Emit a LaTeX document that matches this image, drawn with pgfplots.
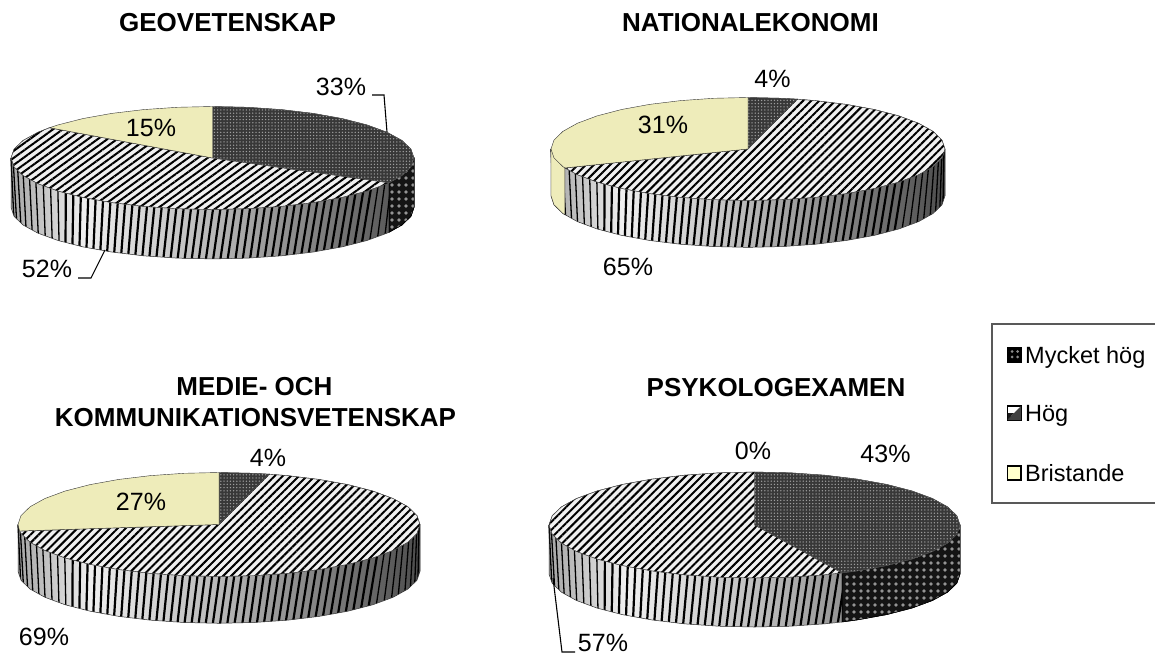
\documentclass[border=0pt]{standalone}
\usepackage{fontspec}
\setmainfont{Liberation Sans}
\usepackage{pgfplots}
\usepackage{pgfplotstable}
\pgfplotsset{compat=1.18}
\usetikzlibrary{patterns.meta}
\definecolor{ybar}{RGB}{238,236,186}
\pgfdeclarehorizontalshading{wallA}{100bp}{color(0bp)=(black!35);color(25bp)=(black!35);color(34bp)=(black!6);color(50bp)=(black!28);color(75bp)=(black!70);color(100bp)=(black!70)}
\pgfdeclarehorizontalshading{wallB}{100bp}{color(0bp)=(black!35);color(25bp)=(black!35);color(38bp)=(black!6);color(60bp)=(black!25);color(75bp)=(black!42);color(100bp)=(black!42)}
\pgfplotstableread[row sep=\\]{x y\\
-.727 0\\-.730 -2.05\\nan nan\\-.6875 0\\-.6965 -2.05\\nan nan\\-.6485 0\\-.6625 -2.05\\nan nan\\-.610 0\\-.628 -2.05\\nan nan\\
-.571 0\\-.594 -2.05\\nan nan\\-.532 0\\-.560 -2.05\\nan nan\\-.4925 0\\-.5265 -2.05\\nan nan\\-.4545 0\\-.4915 -2.05\\nan nan\\
-.4165 0\\-.4565 -2.05\\nan nan\\-.3785 0\\-.4215 -2.05\\nan nan\\-.3405 0\\-.3865 -2.05\\nan nan\\-.3025 0\\-.3515 -2.05\\nan nan\\
-.2645 0\\-.3165 -2.05\\nan nan\\-.2265 0\\-.2815 -2.05\\nan nan\\-.1885 0\\-.2465 -2.05\\nan nan\\-.151 0\\-.211 -2.05\\nan nan\\
-.113 0\\-.176 -2.05\\nan nan\\-.075 0\\-.141 -2.05\\nan nan\\-.037 0\\-.106 -2.05\\nan nan\\.001 0\\-.071 -2.05\\nan nan\\
.039 0\\-.036 -2.05\\nan nan\\.076 0\\0 -2.05\\nan nan\\.113 0\\.036 -2.05\\nan nan\\.150 0\\.072 -2.05\\nan nan\\
.184 0\\.111 -2.05\\nan nan\\.222 0\\.147 -2.05\\nan nan\\.259 0\\.183 -2.05\\nan nan\\.296 0\\.218 -2.05\\nan nan\\
.333 0\\.254 -2.05\\nan nan\\.371 0\\.290 -2.05\\nan nan\\.408 0\\.325 -2.05\\nan nan\\.445 0\\.361 -2.05\\nan nan\\
.482 0\\.397 -2.05\\nan nan\\.520 0\\.433 -2.05\\nan nan\\.557 0\\.469 -2.05\\nan nan\\.593 0\\.505 -2.05\\nan nan\\
.630 0\\.542 -2.05\\nan nan\\.666 0\\.578 -2.05\\nan nan\\.703 0\\.615 -2.05\\nan nan\\.739 0\\.651 -2.05\\nan nan\\
.776 0\\.688 -2.05\\nan nan\\.812 0\\.724 -2.05\\nan nan\\
}\stripes
\pgfplotstableread[row sep=\\]{x y\\
-1 0\\-.975 -2.05\\nan nan\\-.99 0\\-.96 -2.05\\nan nan\\-.97 0\\-.94 -2.05\\nan nan\\-.944 0\\-.916 -2.05\\nan nan\\
-.913 0\\-.887 -2.05\\nan nan\\-.882 0\\-.858 -2.05\\nan nan\\-.845 0\\-.825 -2.05\\nan nan\\-.808 0\\-.792 -2.05\\nan nan\\
-.771 0\\-.759 -2.05\\nan nan\\
.843 0\\.763 -2.05\\nan nan\\.872 0\\.802 -2.05\\nan nan\\.90 0\\.84 -2.05\\nan nan\\.925 0\\.875 -2.05\\nan nan\\
.95 0\\.91 -2.05\\nan nan\\.97 0\\.94 -2.05\\nan nan\\.985 0\\.965 -2.05\\nan nan\\.995 0\\.985 -2.05\\
}\edgestripes
\tikzset{
  dark top/.style={preaction={fill=black!78},pattern={Dots[distance=3.2bp,radius=.75bp]},pattern color=black!38,draw=black!70,line width=.4bp},
  high top/.style={preaction={fill=black!6},pattern={Lines[angle=#1,distance=5.7bp,line width=2bp]},pattern color=black,draw=black!70,line width=.4bp},
  yellow top/.style={fill=ybar,draw=black!80,line width=.4bp},
  dark wall/.style={preaction={fill=black!92},pattern={Dots[distance=7bp,radius=1.9bp]},pattern color=black!42,draw=black,line width=.5bp},
  wall base/.style={shade,shading=#1,draw=none},
  stripe/.style={draw=black,line width=2.2bp},
  edge stripe/.style={draw=black,line width=1.3bp},
  mask/.style={fill=white,draw=none},
  rim/.style={draw=black!85,line width=.5bp},
  yellow wall/.style={fill=ybar,draw=black!80,line width=.4bp},
}
\pgfplotsset{pie/.style={hide axis,scale only axis,clip=false,xmin=-1,xmax=1,ymin=-1,ymax=1,anchor=south west,unbounded coords=jump}}
\begin{document}
\begin{tikzpicture}
\path[use as bounding box] (0,0) rectangle (1155bp,654bp);
% GEOVETENSKAP
\begin{axis}[pie,at={(11bp,444.5bp)},width=403bp,height=103bp]
\addplot[wall base=wallA] coordinates {(1,0)(1,-.96)(.9848,-1.1336)(.9397,-1.302)(.8660,-1.46)(.7660,-1.6028)(.6428,-1.726)(.5,-1.826)(.3420,-1.8997)(.1736,-1.9448)(0,-1.96)(-.1736,-1.9448)(-.3420,-1.8997)(-.5,-1.826)(-.6428,-1.726)(-.7660,-1.6028)(-.8660,-1.46)(-.9397,-1.302)(-.9848,-1.1336)(-1,-.96)(-1,0)} --cycle;
\addplot[stripe] table {\stripes};
\addplot[edge stripe] table {\edgestripes};
\addplot[mask] coordinates {(1,-.96)(.9848,-1.1336)(.9397,-1.302)(.8660,-1.46)(.7660,-1.6028)(.6428,-1.726)(.5,-1.826)(.3420,-1.8997)(.1736,-1.9448)(0,-1.96)(-.1736,-1.9448)(-.3420,-1.8997)(-.5,-1.826)(-.6428,-1.726)(-.7660,-1.6028)(-.8660,-1.46)(-.9397,-1.302)(-.9848,-1.1336)(-1,-.96)(-1.02,-.96)(-1.02,-2.2)(1.02,-2.2)(1.02,-.96)} --cycle;
\addplot[rim] coordinates {(1,0)(1,-.96)(.9848,-1.1336)(.9397,-1.302)(.8660,-1.46)(.7660,-1.6028)(.6428,-1.726)(.5,-1.826)(.3420,-1.8997)(.1736,-1.9448)(0,-1.96)(-.1736,-1.9448)(-.3420,-1.8997)(-.5,-1.826)(-.6428,-1.726)(-.7660,-1.6028)(-.8660,-1.46)(-.9397,-1.302)(-.9848,-1.1336)(-1,-.96)(-1,0)};
\addplot[dark wall] coordinates {(1,0)(1,-.96)(.9848,-1.1336)(.9397,-1.302)(.8763,-1.4418)(.8763,-.4818)} --cycle;
\addplot[dark top] coordinates {(0,0)(0,1)(.1736,.9848)(.3420,.9397)(.5,.8660)(.6428,.7660)(.7660,.6428)(.8660,.5)(.9397,.3420)(.9848,.1736)(1,0)(.9848,-.1736)(.9397,-.3420)(.8763,-.4818)} --cycle;
\addplot[high top=36] coordinates {(0,0)(.8763,-.4818)(.8660,-.5)(.7660,-.6428)(.6428,-.7660)(.5,-.8660)(.3420,-.9397)(.1736,-.9848)(0,-1)(-.1736,-.9848)(-.3420,-.9397)(-.5,-.8660)(-.6428,-.7660)(-.7660,-.6428)(-.8660,-.5)(-.9397,-.3420)(-.9848,-.1736)(-1,0)(-.9848,.1736)(-.9397,.3420)(-.8660,.5)(-.8090,.5878)} --cycle;
\addplot[yellow top] coordinates {(0,0)(-.8090,.5878)(-.7660,.6428)(-.6428,.7660)(-.5,.8660)(-.3420,.9397)(-.1736,.9848)(0,1)} --cycle;
\end{axis}
% NATIONALEKONOMI
\begin{axis}[pie,at={(551bp,453.5bp)},width=394bp,height=103bp]
\addplot[wall base=wallA] coordinates {(1,0)(1,-.91)(.9848,-1.0836)(.9397,-1.252)(.8660,-1.41)(.7660,-1.5528)(.6428,-1.676)(.5,-1.776)(.3420,-1.8497)(.1736,-1.8948)(0,-1.91)(-.1736,-1.8948)(-.3420,-1.8497)(-.5,-1.776)(-.6428,-1.676)(-.7660,-1.5528)(-.8660,-1.41)(-.9397,-1.252)(-.9848,-1.0836)(-1,-.91)(-1,0)} --cycle;
\addplot[stripe] table {\stripes};
\addplot[edge stripe] table {\edgestripes};
\addplot[mask] coordinates {(1,-.91)(.9848,-1.0836)(.9397,-1.252)(.8660,-1.41)(.7660,-1.5528)(.6428,-1.676)(.5,-1.776)(.3420,-1.8497)(.1736,-1.8948)(0,-1.91)(-.1736,-1.8948)(-.3420,-1.8497)(-.5,-1.776)(-.6428,-1.676)(-.7660,-1.5528)(-.8660,-1.41)(-.9397,-1.252)(-.9848,-1.0836)(-1,-.91)(-1.02,-.91)(-1.02,-2.2)(1.02,-2.2)(1.02,-.91)} --cycle;
\addplot[rim] coordinates {(1,0)(1,-.91)(.9848,-1.0836)(.9397,-1.252)(.8660,-1.41)(.7660,-1.5528)(.6428,-1.676)(.5,-1.776)(.3420,-1.8497)(.1736,-1.8948)(0,-1.91)(-.1736,-1.8948)(-.3420,-1.8497)(-.5,-1.776)(-.6428,-1.676)(-.7660,-1.5528)(-.8660,-1.41)(-.9397,-1.252)(-.9848,-1.0836)(-1,-.91)(-1,0)};
\addplot[yellow wall] coordinates {(-.9298,-.3681)(-.9298,-1.2781)(-.9397,-1.252)(-.9848,-1.0836)(-1,-.91)(-1,0)} --cycle;
\addplot[dark top] coordinates {(0,0)(0,1)(.1736,.9848)(.2487,.9686)} --cycle;
\addplot[high top=45] coordinates {(0,0)(.2487,.9686)(.3420,.9397)(.5,.8660)(.6428,.7660)(.7660,.6428)(.8660,.5)(.9397,.3420)(.9848,.1736)(1,0)(.9848,-.1736)(.9397,-.3420)(.8660,-.5)(.7660,-.6428)(.6428,-.7660)(.5,-.8660)(.3420,-.9397)(.1736,-.9848)(0,-1)(-.1736,-.9848)(-.3420,-.9397)(-.5,-.8660)(-.6428,-.7660)(-.7660,-.6428)(-.8660,-.5)(-.9298,-.3681)} --cycle;
\addplot[yellow top] coordinates {(0,0)(-.9298,-.3681)(-.9397,-.3420)(-.9848,-.1736)(-1,0)(-.9848,.1736)(-.9397,.3420)(-.8660,.5)(-.7660,.6428)(-.6428,.7660)(-.5,.8660)(-.3420,.9397)(-.1736,.9848)(0,1)} --cycle;
\end{axis}
% MEDIE
\begin{axis}[pie,at={(18bp,77.5bp)},width=402bp,height=104bp]
\addplot[wall base=wallA] coordinates {(1,0)(1,-.9)(.9848,-1.0736)(.9397,-1.242)(.8660,-1.4)(.7660,-1.5428)(.6428,-1.666)(.5,-1.766)(.3420,-1.8397)(.1736,-1.8848)(0,-1.9)(-.1736,-1.8848)(-.3420,-1.8397)(-.5,-1.766)(-.6428,-1.666)(-.7660,-1.5428)(-.8660,-1.4)(-.9397,-1.242)(-.9848,-1.0736)(-1,-.9)(-1,0)} --cycle;
\addplot[stripe] table {\stripes};
\addplot[edge stripe] table {\edgestripes};
\addplot[mask] coordinates {(1,-.9)(.9848,-1.0736)(.9397,-1.242)(.8660,-1.4)(.7660,-1.5428)(.6428,-1.666)(.5,-1.766)(.3420,-1.8397)(.1736,-1.8848)(0,-1.9)(-.1736,-1.8848)(-.3420,-1.8397)(-.5,-1.766)(-.6428,-1.666)(-.7660,-1.5428)(-.8660,-1.4)(-.9397,-1.242)(-.9848,-1.0736)(-1,-.9)(-1.02,-.9)(-1.02,-2.2)(1.02,-2.2)(1.02,-.9)} --cycle;
\addplot[rim] coordinates {(1,0)(1,-.9)(.9848,-1.0736)(.9397,-1.242)(.8660,-1.4)(.7660,-1.5428)(.6428,-1.666)(.5,-1.766)(.3420,-1.8397)(.1736,-1.8848)(0,-1.9)(-.1736,-1.8848)(-.3420,-1.8397)(-.5,-1.766)(-.6428,-1.666)(-.7660,-1.5428)(-.8660,-1.4)(-.9397,-1.242)(-.9848,-1.0736)(-1,-.9)(-1,0)};
\addplot[dark top] coordinates {(0,0)(0,1)(.1736,.9848)(.2487,.9686)} --cycle;
\addplot[high top=45] coordinates {(0,0)(.2487,.9686)(.3420,.9397)(.5,.8660)(.6428,.7660)(.7660,.6428)(.8660,.5)(.9397,.3420)(.9848,.1736)(1,0)(.9848,-.1736)(.9397,-.3420)(.8660,-.5)(.7660,-.6428)(.6428,-.7660)(.5,-.8660)(.3420,-.9397)(.1736,-.9848)(0,-1)(-.1736,-.9848)(-.3420,-.9397)(-.5,-.8660)(-.6428,-.7660)(-.7660,-.6428)(-.8660,-.5)(-.9397,-.3420)(-.9848,-.1736)(-.9921,-.1253)} --cycle;
\addplot[yellow top] coordinates {(0,0)(-.9921,-.1253)(-1,0)(-.9848,.1736)(-.9397,.3420)(-.8660,.5)(-.7660,.6428)(-.6428,.7660)(-.5,.8660)(-.3420,.9397)(-.1736,.9848)(0,1)} --cycle;
\end{axis}
% PSYKOLOGEXAMEN
\begin{axis}[pie,at={(549bp,76bp)},width=411bp,height=106bp]
\addplot[wall base=wallB] coordinates {(.4258,0)(.4258,-1.8298)(.3420,-1.8647)(.1736,-1.9098)(0,-1.925)(-.1736,-1.9098)(-.3420,-1.8647)(-.5,-1.791)(-.6428,-1.691)(-.7660,-1.5678)(-.8660,-1.425)(-.9397,-1.267)(-.9848,-1.0986)(-1,-.925)(-1,0)} --cycle;
\addplot[stripe] table {\stripes};
\addplot[edge stripe] table {\edgestripes};
\addplot[mask] coordinates {(1,-.925)(.9848,-1.0986)(.9397,-1.267)(.8660,-1.425)(.7660,-1.5678)(.6428,-1.691)(.5,-1.791)(.3420,-1.8647)(.1736,-1.9098)(0,-1.925)(-.1736,-1.9098)(-.3420,-1.8647)(-.5,-1.791)(-.6428,-1.691)(-.7660,-1.5678)(-.8660,-1.425)(-.9397,-1.267)(-.9848,-1.0986)(-1,-.925)(-1.02,-.925)(-1.02,-2.2)(1.02,-2.2)(1.02,-.925)} --cycle;
\addplot[rim] coordinates {(.4258,-1.8298)(.3420,-1.8647)(.1736,-1.9098)(0,-1.925)(-.1736,-1.9098)(-.3420,-1.8647)(-.5,-1.791)(-.6428,-1.691)(-.7660,-1.5678)(-.8660,-1.425)(-.9397,-1.267)(-.9848,-1.0986)(-1,-.925)(-1,0)};
\addplot[dark wall] coordinates {(1,0)(1,-.925)(.9848,-1.0986)(.9397,-1.267)(.8660,-1.425)(.7660,-1.5678)(.6428,-1.691)(.5,-1.791)(.4258,-1.8298)(.4258,-.9048)(.4258,0)} --cycle;
\addplot[dark top] coordinates {(0,0)(0,1)(.1736,.9848)(.3420,.9397)(.5,.8660)(.6428,.7660)(.7660,.6428)(.8660,.5)(.9397,.3420)(.9848,.1736)(1,0)(.9848,-.1736)(.9397,-.3420)(.8660,-.5)(.7660,-.6428)(.6428,-.7660)(.5,-.8660)(.4258,-.9048)} --cycle;
\addplot[high top=45] coordinates {(0,0)(.4258,-.9048)(.3420,-.9397)(.1736,-.9848)(0,-1)(-.1736,-.9848)(-.3420,-.9397)(-.5,-.8660)(-.6428,-.7660)(-.7660,-.6428)(-.8660,-.5)(-.9397,-.3420)(-.9848,-.1736)(-1,0)(-.9848,.1736)(-.9397,.3420)(-.8660,.5)(-.7660,.6428)(-.6428,.7660)(-.5,.8660)(-.3420,.9397)(-.1736,.9848)(0,1)} --cycle;
\end{axis}
% Titles, labels, legend in image pixel coordinates
\begin{axis}[hide axis,scale only axis,clip=false,at={(0,0)},anchor=south west,width=1155bp,height=654bp,xmin=0,xmax=1155,ymin=0,ymax=654,y dir=reverse]
\addplot[black,line width=1.1bp] coordinates {(372,95)(384,95)(387,132)};
\addplot[black,line width=1.1bp] coordinates {(78,278)(91,278)(105,250)};
\addplot[black,line width=1.1bp] coordinates {(575,652)(562,652)(553,578)};
\addplot[draw=black!65,line width=1.2bp] coordinates {(1155,324)(992,324)(992,503)(1155,503)};
\addplot[preaction={fill=black},pattern={Dots[distance=5.5bp,radius=1.5bp]},pattern color=black!45,draw=black,line width=1.4bp] coordinates {(1007.5,348)(1021,348)(1021,362)(1007.5,362)} --cycle;
\addplot[fill=white,draw=black,line width=1.6bp] coordinates {(1007.5,406)(1021,406)(1021,420)(1007.5,420)} --cycle;
\addplot[fill=black!75,draw=none] coordinates {(1021,406)(1021,420)(1007.5,420)} --cycle;
\addplot[fill=black!90,draw=none] coordinates {(1007.5,420)(1007.5,413)(1014,413)} --cycle;
\addplot[fill={rgb,255:red,255;green,255;blue,204},draw=black,line width=1.8bp] coordinates {(1007.5,466)(1021,466)(1021,480)(1007.5,480)} --cycle;
\def\ttl{\fontsize{26bp}{31bp}\selectfont\bfseries}
\def\pct{\fontsize{25bp}{30bp}\selectfont}
\def\leg{\fontsize{23.5bp}{28bp}\selectfont}
\node[font=\ttl] at (axis cs:227.5,23) {GEOVETENSKAP};
\node[font=\ttl] at (axis cs:750.5,23) {NATIONALEKONOMI};
\node[font=\ttl] at (axis cs:254.5,387) {MEDIE- OCH};
\node[font=\ttl] at (axis cs:255.5,417.5) {KOMMUNIKATIONSVETENSKAP};
\node[font=\ttl] at (axis cs:776,388) {PSYKOLOGEXAMEN};
\node[font=\pct] at (axis cs:341,87) {33\%};
\node[font=\pct] at (axis cs:151,128) {15\%};
\node[font=\pct] at (axis cs:47,269) {52\%};
\node[font=\pct] at (axis cs:772.5,79) {4\%};
\node[font=\pct] at (axis cs:663,125) {31\%};
\node[font=\pct] at (axis cs:628,267) {65\%};
\node[font=\pct] at (axis cs:268,458) {4\%};
\node[font=\pct] at (axis cs:141,502) {27\%};
\node[font=\pct] at (axis cs:44,637) {69\%};
\node[font=\pct] at (axis cs:753,451) {0\%};
\node[font=\pct] at (axis cs:885.5,454) {43\%};
\node[font=\pct] at (axis cs:603,642.5) {57\%};
\node[font=\leg,anchor=base west,inner sep=0pt] at (axis cs:1025,363) {Mycket hög};
\node[font=\leg,anchor=base west,inner sep=0pt] at (axis cs:1025,421) {Hög};
\node[font=\leg,anchor=base west,inner sep=0pt] at (axis cs:1025,481) {Bristande};
\end{axis}
\end{tikzpicture}
\end{document}
